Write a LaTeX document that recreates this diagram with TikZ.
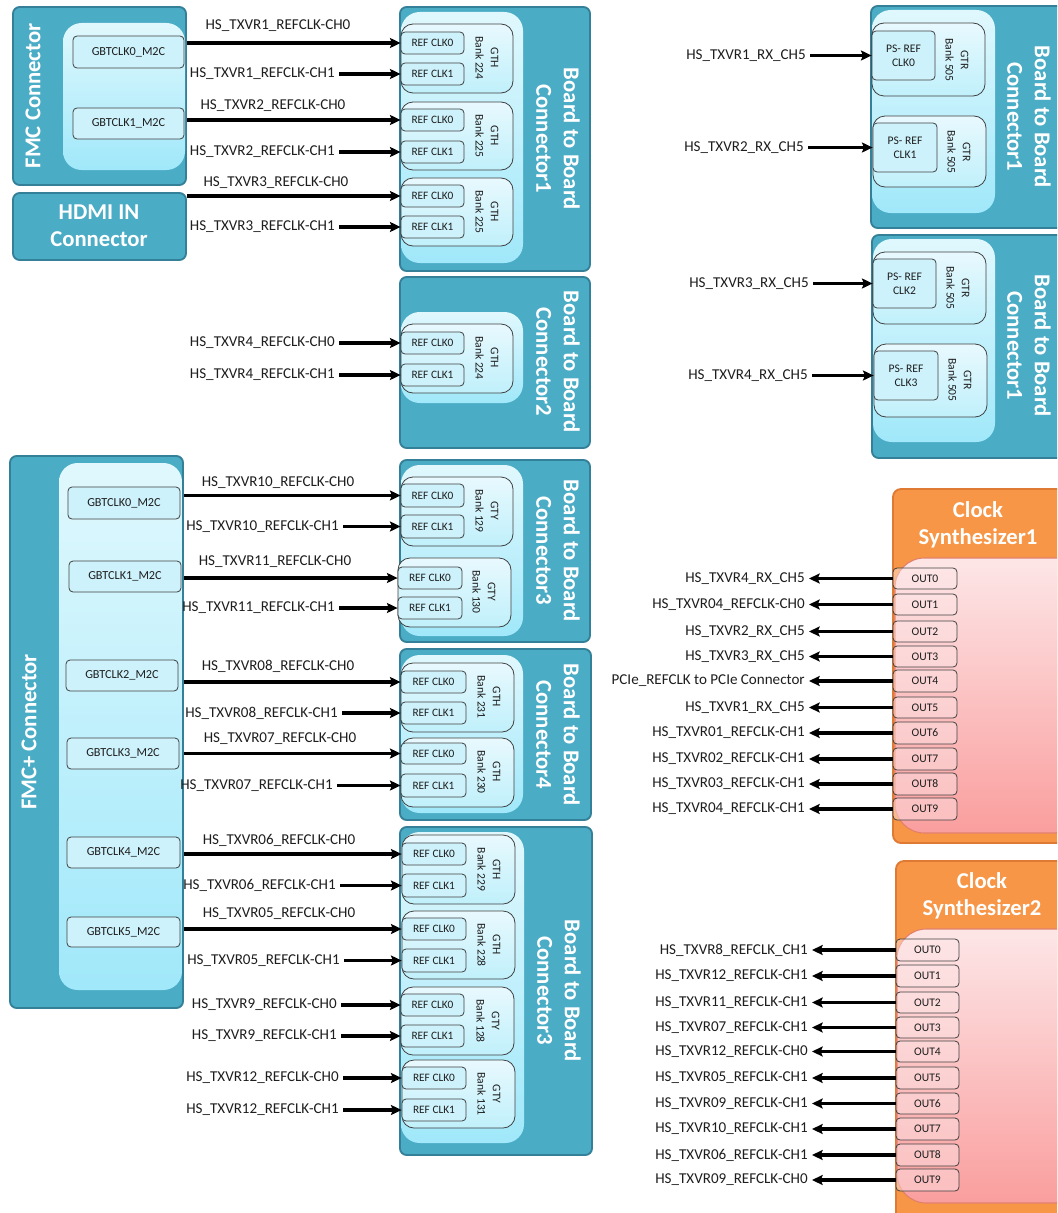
\documentclass[tikz,border=0pt]{standalone}
\usepackage{fontspec}
\setmainfont{Carlito}
\usetikzlibrary{arrows.meta,fit}
\definecolor{tealF}{RGB}{75,172,198}
\definecolor{tealD}{RGB}{52,128,152}
\definecolor{ltA}{RGB}{224,248,253}
\definecolor{ltB}{RGB}{160,232,250}
\definecolor{bkA}{RGB}{232,249,254}
\definecolor{bkB}{RGB}{192,240,251}
\definecolor{rfF}{RGB}{205,242,251}
\definecolor{edge}{RGB}{64,64,64}
\definecolor{orF}{RGB}{247,150,70}
\definecolor{orD}{RGB}{222,122,52}
\definecolor{pkA}{RGB}{253,230,231}
\definecolor{pkB}{RGB}{250,158,158}
\definecolor{pkD}{RGB}{226,128,108}
\definecolor{txt}{RGB}{30,30,30}
\tikzset{
  outerbox/.style={draw=tealD, fill=tealF, line width=1.4pt, rounded corners=5pt, inner sep=0pt},
  innerbox/.style={top color=ltA, bottom color=ltB, draw=none, rounded corners=14pt, inner sep=0pt},
  bankbox/.style={top color=bkA, bottom color=bkB, draw=edge, line width=0.6pt, rounded corners=9pt, inner sep=0pt},
  refbox/.style={fill=rfF, draw=edge, line width=0.6pt, rounded corners=3pt, inner sep=0pt},
  reft/.style={font=\fontsize{8.5}{10}\selectfont, text=txt, inner sep=0pt, text opacity=1},
  gbtt/.style={reft, font=\fontsize{9.2}{11}\selectfont},
  pst/.style={reft, align=center, font=\fontsize{8.7}{10.5}\selectfont},
  outt/.style={reft, font=\fontsize{8.7}{10}\selectfont},
  banktxt/.style={rotate=-90, align=center, font=\fontsize{8.7}{11.5}\selectfont, text=txt, inner sep=0pt},
  ttl/.style={align=center, text=white, font=\fontsize{17}{20.5}\selectfont\bfseries, inner sep=0pt},
  lab/.style={font=\fontsize{11.3}{13}\selectfont, text=txt, inner sep=0pt},
  labE/.style={lab, anchor=east, inner xsep=3pt},
  arr/.style={line width=2.3pt, -{Stealth[length=8pt,width=7.5pt,inset=1.5pt]}},
  orbox/.style={draw=orD, fill=orF, line width=1.4pt, rounded corners=6pt, inner sep=0pt},
  pkbox/.style={top color=pkA, bottom color=pkB, draw=pkD, line width=0.8pt, rounded corners=22pt, inner sep=0pt},
  outbox/.style={draw=edge, line width=0.6pt, rounded corners=3pt, inner sep=0pt, fill=pkA, fill opacity=0.45},
}
\begin{document}
\begin{tikzpicture}[x=0.75pt,y=-0.75pt]
\path[use as bounding box, fill=white] (0,0) rectangle (1057,1213);
\clip (0,0) rectangle (1057,1213);

% ---------- FMC connector ----------
\node[outerbox, fit={(13,7)(186,185)}] (fmc) {};
\node[innerbox, fit={(63,23)(185,170)}] (fmcin) {};
\node[refbox, fit={(73,36)(184,68)}, label={[gbtt]center:GBTCLK0\_M2C}] (g0) {};
\node[refbox, fit={(73,108)(184,139)}, label={[gbtt]center:GBTCLK1\_M2C}] (g1) {};
\node[ttl, rotate=90] (fmct) at (33,96) {FMC Connector};
% ---------- HDMI ----------
\node[outerbox, fit={(13,193)(186,260)}] (hdmi) {};
\node[ttl] (hdmit) at (99,226) {HDMI IN\\Connector};

% ---------- B2B connector 1 (left) ----------
\node[outerbox, fit={(400,7)(590,271)}] (bA) {};
\node[innerbox, fit={(401,12)(523,263)}] (bAin) {};
\node[bankbox, fit={(401,24)(513,93)}] (bA1) {};
\node[bankbox, fit={(401,102)(513,170)}] (bA2) {};
\node[bankbox, fit={(401,178)(513,246)}] (bA3) {};
\node[refbox, fit={(401,32)(464,54)}, label={[reft]center:REF CLK0}] (rA1a) {};
\node[refbox, fit={(401,63)(464,85)}, label={[reft]center:REF CLK1}] (rA1b) {};
\node[refbox, fit={(401,109)(464,131)}, label={[reft]center:REF CLK0}] (rA2a) {};
\node[refbox, fit={(401,141)(464,163)}, label={[reft]center:REF CLK1}] (rA2b) {};
\node[refbox, fit={(401,185)(464,207)}, label={[reft]center:REF CLK0}] (rA3a) {};
\node[refbox, fit={(401,216)(464,238)}, label={[reft]center:REF CLK1}] (rA3b) {};
\node[banktxt] (tA1) at (487,58) {GTH\\Bank 224};
\node[banktxt] (tA2) at (487,136) {GTH\\Bank 225};
\node[banktxt] (tA3) at (487,212) {GTH\\Bank 225};
\node[ttl, rotate=-90] (bAt) at (558,139) {Board to Board\\Connector1};

\draw[arr] (fmc.east |- rA1a.west) -- (rA1a.west);
\node[lab] (lA1a) at (278,26) {HS\_TXVR1\_REFCLK-CH0};
\node[labE] (lA1b) at (339,74) {HS\_TXVR1\_REFCLK-CH1};
\draw[arr] (lA1b.east) -- (lA1b.east -| rA1b.west);
\draw[arr] (fmc.east |- rA2a.west) -- (rA2a.west);
\node[lab] (lA2a) at (273,106) {HS\_TXVR2\_REFCLK-CH0};
\node[labE] (lA2b) at (339,152) {HS\_TXVR2\_REFCLK-CH1};
\draw[arr] (lA2b.east) -- (lA2b.east -| rA2b.west);
\draw[arr] (hdmi.east |- rA3a.west) -- (rA3a.west);
\node[lab] (lA3a) at (276,183) {HS\_TXVR3\_REFCLK-CH0};
\node[labE] (lA3b) at (339,227) {HS\_TXVR3\_REFCLK-CH1};
\draw[arr] (lA3b.east) -- (lA3b.east -| rA3b.west);

% ---------- B2B connector 2 ----------
\node[outerbox, fit={(400,277)(590,448)}] (bB) {};
\node[innerbox, fit={(401,312)(523,403)}] (bBin) {};
\node[bankbox, fit={(401,324)(513,393)}] (bB1) {};
\node[refbox, fit={(401,332)(464,354)}, label={[reft]center:REF CLK0}] (rB1a) {};
\node[refbox, fit={(401,364)(464,386)}, label={[reft]center:REF CLK1}] (rB1b) {};
\node[banktxt] (tB1) at (487,358) {GTH\\Bank 224};
\node[ttl, rotate=-90] (bBt) at (558,362) {Board to Board\\Connector2};
\node[labE] (lB1a) at (339,343) {HS\_TXVR4\_REFCLK-CH0};
\draw[arr] (lB1a.east) -- (lB1a.east -| rB1a.west);
\node[labE] (lB1b) at (339,375) {HS\_TXVR4\_REFCLK-CH1};
\draw[arr] (lB1b.east) -- (lB1b.east -| rB1b.west);

% ---------- FMC+ connector ----------
\node[outerbox, fit={(10,456)(183,1008)}] (fmcp) {};
\node[innerbox, fit={(59,463)(182,990)}] (fmcpin) {};
\node[refbox, fit={(68,487)(180,519)}, label={[gbtt]center:GBTCLK0\_M2C}] (h0) {};
\node[refbox, fit={(69,561)(181,592)}, label={[gbtt]center:GBTCLK1\_M2C}] (h1) {};
\node[refbox, fit={(66,660)(178,691)}, label={[gbtt]center:GBTCLK2\_M2C}] (h2) {};
\node[refbox, fit={(67,738)(179,769)}, label={[gbtt]center:GBTCLK3\_M2C}] (h3) {};
\node[refbox, fit={(67,837)(180,868)}, label={[gbtt]center:GBTCLK4\_M2C}] (h4) {};
\node[refbox, fit={(67,917)(180,947)}, label={[gbtt]center:GBTCLK5\_M2C}] (h5) {};
\node[ttl, rotate=90] (fmcpt) at (29,732) {FMC+ Connector};

% ---------- B2B connector 3 (upper) ----------
\node[outerbox, fit={(400,460)(590,642)}] (bC) {};
\node[innerbox, fit={(401,465)(523,636)}] (bCin) {};
\node[bankbox, fit={(401,477)(513,546)}] (bC1) {};
\node[bankbox, fit={(398,558)(511,627)}] (bC2) {};
\node[refbox, fit={(401,484)(464,507)}, label={[reft]center:REF CLK0}] (rC1a) {};
\node[refbox, fit={(401,515)(464,538)}, label={[reft]center:REF CLK1}] (rC1b) {};
\node[refbox, fit={(398,567)(462,589)}, label={[reft]center:REF CLK0}] (rC2a) {};
\node[refbox, fit={(398,597)(462,619)}, label={[reft]center:REF CLK1}] (rC2b) {};
\node[banktxt] (tC1) at (487,511) {GTY\\Bank 129};
\node[banktxt] (tC2) at (484,592) {GTY\\Bank 130};
\node[ttl, rotate=-90] (bCt) at (558,551) {Board to Board\\Connector3};

\draw[arr] (fmcp.east |- rC1a.west) -- (rC1a.west);
\node[lab] (lC1a) at (278,483) {HS\_TXVR10\_REFCLK-CH0};
\node[labE] (lC1b) at (343,526.5) {HS\_TXVR10\_REFCLK-CH1};
\draw[arr] (lC1b.east) -- (lC1b.east -| rC1b.west);
\draw[arr] (fmcp.east |- rC2a.west) -- (rC2a.west);
\node[lab] (lC2a) at (275,562) {HS\_TXVR11\_REFCLK-CH0};
\node[labE] (lC2b) at (339,608) {HS\_TXVR11\_REFCLK-CH1};
\draw[arr] (lC2b.east) -- (lC2b.east -| rC2b.west);

% ---------- B2B connector 4 ----------
\node[outerbox, fit={(400,649)(591,820)}] (bD) {};
\node[innerbox, fit={(401,655)(523,813)}] (bDin) {};
\node[bankbox, fit={(401,663)(514,732)}] (bD1) {};
\node[bankbox, fit={(401,738)(514,807)}] (bD2) {};
\node[refbox, fit={(401,671)(466,693)}, label={[reft]center:REF CLK0}] (rD1a) {};
\node[refbox, fit={(401,702)(466,724)}, label={[reft]center:REF CLK1}] (rD1b) {};
\node[refbox, fit={(401,743)(466,764)}, label={[reft]center:REF CLK0}] (rD2a) {};
\node[refbox, fit={(401,774)(466,797)}, label={[reft]center:REF CLK1}] (rD2b) {};
\node[banktxt] (tD1) at (489,697) {GTH\\Bank 231};
\node[banktxt] (tD2) at (489,772) {GTH\\Bank 230};
\node[ttl, rotate=-90] (bDt) at (558,735) {Board to Board\\Connector4};

\draw[arr] (fmcp.east |- rD1a.west) -- (rD1a.west);
\node[lab] (lD1a) at (278,666) {HS\_TXVR08\_REFCLK-CH0};
\node[labE] (lD1b) at (342,713) {HS\_TXVR08\_REFCLK-CH1};
\draw[arr] (lD1b.east) -- (lD1b.east -| rD1b.west);
\draw[arr] (fmcp.east |- rD2a.west) -- (rD2a.west);
\node[lab] (lD2a) at (280,739) {HS\_TXVR07\_REFCLK-CH0};
\node[labE] (lD2b) at (337,785.5) {HS\_TXVR07\_REFCLK-CH1};
\draw[arr] (lD2b.east) -- (lD2b.east -| rD2b.west);

% ---------- B2B connector 3 (lower) ----------
\node[outerbox, fit={(400,827)(592,1155)}] (bE) {};
\node[innerbox, fit={(401,832)(524,1143)}] (bEin) {};
\node[bankbox, fit={(402,835)(515,904)}] (bE1) {};
\node[bankbox, fit={(402,911)(515,979)}] (bE2) {};
\node[bankbox, fit={(401,987)(514,1055)}] (bE3) {};
\node[bankbox, fit={(402,1060)(515,1128)}] (bE4) {};
\node[refbox, fit={(402,843)(466,865)}, label={[reft]center:REF CLK0}] (rE1a) {};
\node[refbox, fit={(402,874)(466,897)}, label={[reft]center:REF CLK1}] (rE1b) {};
\node[refbox, fit={(402,918)(466,940)}, label={[reft]center:REF CLK0}] (rE2a) {};
\node[refbox, fit={(402,949)(466,972)}, label={[reft]center:REF CLK1}] (rE2b) {};
\node[refbox, fit={(401,994)(464,1016)}, label={[reft]center:REF CLK0}] (rE3a) {};
\node[refbox, fit={(401,1025)(464,1047)}, label={[reft]center:REF CLK1}] (rE3b) {};
\node[refbox, fit={(402,1067)(466,1089)}, label={[reft]center:REF CLK0}] (rE4a) {};
\node[refbox, fit={(402,1099)(466,1121)}, label={[reft]center:REF CLK1}] (rE4b) {};
\node[banktxt] (tE1) at (489,869.5) {GTH\\Bank 229};
\node[banktxt] (tE2) at (489,945) {GTH\\Bank 228};
\node[banktxt] (tE3) at (488,1021) {GTY\\Bank 128};
\node[banktxt] (tE4) at (489,1094) {GTY\\Bank 131};
\node[ttl, rotate=-90] (bEt) at (559,991) {Board to Board\\Connector3};

\draw[arr] (fmcp.east |- rE1a.west) -- (rE1a.west);
\node[lab] (lE1a) at (279,840) {HS\_TXVR06\_REFCLK-CH0};
\node[labE] (lE1b) at (340,885.5) {HS\_TXVR06\_REFCLK-CH1};
\draw[arr] (lE1b.east) -- (lE1b.east -| rE1b.west);
\draw[arr] (fmcp.east |- rE2a.west) -- (rE2a.west);
\node[lab] (lE2a) at (279,914) {HS\_TXVR05\_REFCLK-CH0};
\node[labE] (lE2b) at (344,960.5) {HS\_TXVR05\_REFCLK-CH1};
\draw[arr] (lE2b.east) -- (lE2b.east -| rE2b.west);
\node[labE] (lE3a) at (341,1005) {HS\_TXVR9\_REFCLK-CH0};
\draw[arr] (lE3a.east) -- (lE3a.east -| rE3a.west);
\node[labE] (lE3b) at (341,1036) {HS\_TXVR9\_REFCLK-CH1};
\draw[arr] (lE3b.east) -- (lE3b.east -| rE3b.west);
\node[labE] (lE4a) at (343,1078) {HS\_TXVR12\_REFCLK-CH0};
\draw[arr] (lE4a.east) -- (lE4a.east -| rE4a.west);
\node[labE] (lE4b) at (343,1110) {HS\_TXVR12\_REFCLK-CH1};
\draw[arr] (lE4b.east) -- (lE4b.east -| rE4b.west);

% ---------- Right B2B connector 1 (upper) ----------
\node[outerbox, fit={(871,6)(1075,228)}] (bF) {};
\node[innerbox, fit={(872,10)(995,213)}] (bFin) {};
\node[bankbox, fit={(872,23)(985,96)}] (bF1) {};
\node[bankbox, fit={(873,116)(986,187)}] (bF2) {};
\node[refbox, fit={(872,31)(935,80)}, label={[pst]center:{PS- REF\\CLK0}}] (pF1) {};
\node[refbox, fit={(873,123)(937,172)}, label={[pst]center:{PS- REF\\CLK1}}] (pF2) {};
\node[banktxt] (tF1) at (957,60) {GTR\\Bank 505};
\node[banktxt] (tF2) at (959,152) {GTR\\Bank 505};
\node[ttl, rotate=-90] (bFt) at (1029,117) {Board to Board\\Connector1};
\node[labE] (lF1) at (810,55.5) {HS\_TXVR1\_RX\_CH5};
\draw[arr] (lF1.east) -- (lF1.east -| pF1.west);
\node[labE] (lF2) at (808,147.5) {HS\_TXVR2\_RX\_CH5};
\draw[arr] (lF2.east) -- (lF2.east -| pF2.west);

% ---------- Right B2B connector 1 (lower) ----------
\node[outerbox, fit={(872,235)(1075,458)}] (bG) {};
\node[innerbox, fit={(873,239)(995,442)}] (bGin) {};
\node[bankbox, fit={(873,252)(986,324)}] (bG1) {};
\node[bankbox, fit={(874,344)(987,417)}] (bG2) {};
\node[refbox, fit={(873,259)(936,308)}, label={[pst]center:{PS- REF\\CLK2}}] (pG1) {};
\node[refbox, fit={(874,351)(938,400)}, label={[pst]center:{PS- REF\\CLK3}}] (pG2) {};
\node[banktxt] (tG1) at (958,288) {GTR\\Bank 505};
\node[banktxt] (tG2) at (960,380) {GTR\\Bank 505};
\node[ttl, rotate=-90] (bGt) at (1029,346) {Board to Board\\Connector1};
\node[labE] (lG1) at (813,283.5) {HS\_TXVR3\_RX\_CH5};
\draw[arr] (lG1.east) -- (lG1.east -| pG1.west);
\node[labE] (lG2) at (812,375.5) {HS\_TXVR4\_RX\_CH5};
\draw[arr] (lG2.east) -- (lG2.east -| pG2.west);

% ---------- Clock Synthesizer 1 ----------
\node[orbox, fit={(893,489)(1080,843)}] (s1) {};
\node[pkbox, fit={(895,558)(1085,833)}] (s1in) {};
\node[ttl] (s1t) at (978,525) {Clock\\Synthesizer1};
\foreach \i/\ya/\yb/\tx in {
  0/568/589/HS\_TXVR4\_RX\_CH5,
  1/594/615/HS\_TXVR04\_REFCLK-CH0,
  2/621/642/HS\_TXVR2\_RX\_CH5,
  3/646/667/HS\_TXVR3\_RX\_CH5,
  4/670/692/PCIe\_REFCLK to PCIe Connector,
  5/697/718/HS\_TXVR1\_RX\_CH5,
  6/722/744/HS\_TXVR01\_REFCLK-CH1,
  7/748/770/HS\_TXVR02\_REFCLK-CH1,
  8/773/795/HS\_TXVR03\_REFCLK-CH1,
  9/798/820/HS\_TXVR04\_REFCLK-CH1}{
  \node[outbox, fit={(893,\ya)(957,\yb)}, label={[outt]center:OUT\i}] (s1o\i) {};
  \node[labE] (s1l\i) at (809,{(\ya+\yb)/2}) {\tx};
  \draw[arr] (s1o\i.west) -- (s1o\i.west -| s1l\i.east);
}

% ---------- Clock Synthesizer 2 ----------
\node[orbox, fit={(896,861)(1080,1225)}] (s2) {};
\node[pkbox, fit={(897,929)(1085,1203)}] (s2in) {};
\node[ttl] (s2t) at (982,896) {Clock\\Synthesizer2};
\foreach \i/\ya/\yb/\tx in {
  0/939/961/HS\_TXVR8\_REFCLK\_CH1,
  1/965/987/HS\_TXVR12\_REFCLK-CH1,
  2/992/1013/HS\_TXVR11\_REFCLK-CH1,
  3/1017/1038/HS\_TXVR07\_REFCLK-CH1,
  4/1041/1062/HS\_TXVR12\_REFCLK-CH0,
  5/1067/1089/HS\_TXVR05\_REFCLK-CH1,
  6/1093/1114/HS\_TXVR09\_REFCLK-CH1,
  7/1118/1140/HS\_TXVR10\_REFCLK-CH1,
  8/1144/1166/HS\_TXVR06\_REFCLK-CH1,
  9/1169/1191/HS\_TXVR09\_REFCLK-CH0}{
  \node[outbox, fit={(896,\ya)(959,\yb)}, label={[outt]center:OUT\i}] (s2o\i) {};
  \node[labE] (s2l\i) at (812,{(\ya+\yb)/2}) {\tx};
  \draw[arr] (s2o\i.west) -- (s2o\i.west -| s2l\i.east);
}
\end{tikzpicture}
\end{document}
